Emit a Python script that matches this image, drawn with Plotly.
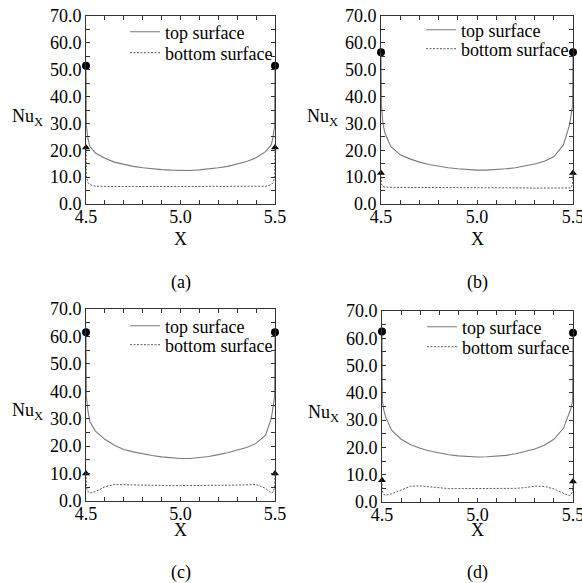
import plotly.graph_objects as go

# ---------------- data ----------------
x_pts = [4.5, 4.502, 4.51, 4.52, 4.55, 4.6, 4.65, 4.7, 4.75, 4.8, 4.85, 4.9, 4.95,
         5.0, 5.05, 5.1, 5.15, 5.2, 5.25, 5.3, 5.35, 5.4, 5.45, 5.48, 5.49, 5.498, 5.5]

top_a = [51.5, 29, 24.5, 21.5, 19.0, 17.0, 15.6, 14.8, 14.0, 13.5, 13.1, 12.8, 12.6,
         12.5, 12.5, 12.7, 13.0, 13.5, 14.0, 14.8, 15.8, 17.2, 19.5, 22, 25, 29, 51.5]
bot_a = [21, 10, 8.0, 7.2, 6.6, 6.5, 6.5, 6.5, 6.5, 6.5, 6.5, 6.5, 6.5,
         6.5, 6.5, 6.5, 6.5, 6.5, 6.5, 6.5, 6.5, 6.5, 6.6, 7.2, 8.0, 10, 21]

top_b = [56.5, 37, 30, 26.5, 21.5, 18.3, 16.8, 15.6, 14.7, 14.0, 13.5, 13.1, 12.8,
         12.6, 12.6, 12.8, 13.1, 13.5, 14.1, 14.9, 15.9, 17.6, 22, 29, 33, 37, 56.5]
bot_b = [11.5, 7.5, 6.5, 6.3, 6.2, 6.2, 6.2, 6.2, 6.2, 6.2, 6.2, 6.1, 6.1,
         6.1, 6.1, 6.0, 6.0, 6.0, 6.0, 5.9, 5.9, 5.8, 5.8, 5.8, 6.0, 7.5, 11.5]

top_c = [61.5, 38, 33, 29, 25.5, 22.5, 20.3, 18.8, 17.9, 17.2, 16.6, 16.1, 15.7,
         15.5, 15.5, 15.8, 16.2, 16.9, 17.6, 18.6, 19.5, 21.0, 24.0, 30, 34, 38, 61.5]
bot_c = [10, 5, 3.5, 2.9, 3.4, 5.2, 6.0, 5.9, 5.8, 5.7, 5.6, 5.6, 5.6,
         5.6, 5.6, 5.6, 5.6, 5.6, 5.7, 5.8, 5.9, 6.0, 4.6, 2.9, 3.3, 5, 10]

top_d = [62.5, 37, 33.5, 31, 26.3, 23.0, 21.0, 19.7, 18.7, 17.9, 17.3, 16.9, 16.6,
         16.5, 16.6, 16.8, 17.1, 17.7, 18.5, 19.4, 20.8, 23.0, 27, 32.5, 34.5, 37, 62]
bot_d = [8, 4, 2.7, 2.5, 3.0, 4.5, 5.8, 5.9, 5.6, 5.1, 4.9, 4.9, 4.9,
         4.9, 4.9, 4.9, 4.9, 5.0, 5.3, 5.8, 5.7, 4.8, 3.2, 2.4, 2.6, 4, 7.5]

edge_x = [4.5, 5.5]
circ_a, tri_a = [51.5, 51.5], [21, 21]
circ_b, tri_b = [56.5, 56.5], [11.5, 11.5]
circ_c, tri_c = [61.5, 61.5], [10, 10]
circ_d, tri_d = [62.5, 62], [8, 7.5]

panels = [
    ("(a)", top_a, bot_a, circ_a, tri_a),
    ("(b)", top_b, bot_b, circ_b, tri_b),
    ("(c)", top_c, bot_c, circ_c, tri_c),
    ("(d)", top_d, bot_d, circ_d, tri_d),
]
legend_names = ["top surface", "bottom surface"]
x_ticks = [4.5, 5.0, 5.5]
y_ticks = [0, 10, 20, 30, 40, 50, 60, 70]

# ---------------- layout geometry (pixels) ----------------
W, H = 582, 583
# (left, right, top, bottom) of each plot area in pixels
boxes = [(86, 275, 16, 204), (381, 573, 16, 204), (86, 275, 309, 501), (382, 573, 311, 502)]
# left x of legend box, y centre of the two legend rows
legend_pos = [(125, 32, 53), (421, 30, 49), (125, 326, 345), (422, 327, 347)]
# y centre of "X" title and of the panel caption
title_y = [(239, 282), (239, 282), (530, 572), (530, 572)]
FONT = "Liberation Serif"

fig = go.Figure()
layout = dict(width=W, height=H,
              margin=dict(l=0, r=0, t=0, b=0, pad=0, autoexpand=False),
              paper_bgcolor="white", plot_bgcolor="white",
              font=dict(family=FONT, size=18, color="black"),
              showlegend=True, annotations=[])

for i, (lab, top, bot, circ, tri) in enumerate(panels):
    n = i + 1
    xa = "x" if n == 1 else f"x{n}"
    ya = "y" if n == 1 else f"y{n}"
    lg_top = "legend" if i == 0 else f"legend{2 * i + 1}"
    lg_bot = f"legend{2 * i + 2}"
    fig.add_trace(go.Scatter(x=x_pts, y=top, mode="lines", name=legend_names[0],
                             line=dict(color="#7a7a7a", width=1.1),
                             xaxis=xa, yaxis=ya, legend=lg_top))
    fig.add_trace(go.Scatter(x=x_pts, y=bot, mode="lines", name=legend_names[1],
                             line=dict(color="#5a5a5a", width=1, dash="2px,1.5px"),
                             xaxis=xa, yaxis=ya, legend=lg_bot))
    fig.add_trace(go.Scatter(x=edge_x, y=circ, mode="markers", showlegend=False,
                             marker=dict(symbol="circle", size=8, color="black"),
                             cliponaxis=False, xaxis=xa, yaxis=ya))
    fig.add_trace(go.Scatter(x=edge_x, y=tri, mode="markers", showlegend=False,
                             marker=dict(symbol="triangle-up", size=7, color="black"),
                             cliponaxis=False, xaxis=xa, yaxis=ya))

    l, r, t, b = boxes[i]
    axcommon = dict(showline=True, linecolor="#333", linewidth=1, mirror="allticks",
                    ticks="inside", ticklen=4, tickwidth=1, tickcolor="#333",
                    showgrid=False, zeroline=False, fixedrange=True,
                    ticklabeloverflow="allow",
                    tickfont=dict(family=FONT, size=18, color="black"))
    xkey = "xaxis" if n == 1 else f"xaxis{n}"
    ykey = "yaxis" if n == 1 else f"yaxis{n}"
    layout[xkey] = dict(axcommon, domain=[l / W, r / W], range=[4.5, 5.5],
                        tickvals=x_ticks, tickformat=".1f", anchor=ya,
                        ticklabelstandoff=-4,
                        minor=dict(dtick=0.1, tick0=4.5, ticks="inside", ticklen=4,
                                   tickcolor="#333"))
    layout[ykey] = dict(axcommon, domain=[1 - b / H, 1 - t / H], range=[0, 70],
                        tickvals=y_ticks, tickformat=".1f", anchor=xa,
                        minor=dict(dtick=5, tick0=0, ticks="inside", ticklen=4,
                                   tickcolor="#333"))
    lx, ly1, ly2 = legend_pos[i]
    for key, ly in ((lg_top, ly1), (lg_bot, ly2)):
        layout[key] = dict(x=lx / W, y=1 - ly / H, xanchor="left", yanchor="middle",
                           bgcolor="rgba(0,0,0,0)", borderwidth=0,
                           font=dict(family=FONT, size=18, color="black"))
    cx = (l + r) / 2
    ty, cy = title_y[i]
    layout["annotations"] += [
        dict(text="X", x=cx / W, y=1 - ty / H, xref="paper", yref="paper",
             xanchor="center", yanchor="middle",
             showarrow=False, font=dict(family=FONT, size=18)),
        dict(text=lab, x=cx / W, y=1 - cy / H, xref="paper", yref="paper",
             xanchor="center", yanchor="middle",
             showarrow=False, font=dict(family=FONT, size=18)),
        dict(text="Nu<sub>X</sub>", x=(l - 59) / W, y=1 - (t + 102) / H,
             xref="paper", yref="paper", showarrow=False,
             xanchor="center", yanchor="middle",
             font=dict(family=FONT, size=18)),
    ]

fig.update_layout(**layout)
fig.write_html("out.html")
